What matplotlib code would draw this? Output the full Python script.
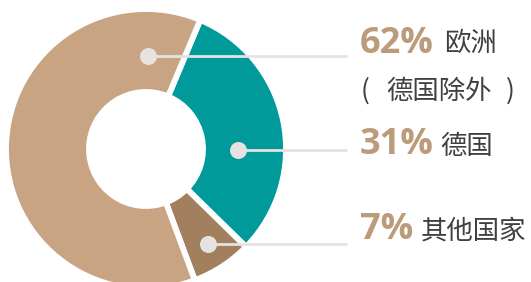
import matplotlib
matplotlib.use("Agg")
import matplotlib.pyplot as plt

#data
shares = [62, 31, 7]
pct_labels = ["62%", "31%", "7%"]
names = ["欧洲", "德国", "其他国家"]
note = "德国除外"
colors = ["#c8a482", "#009a9a", "#a2805d"]

#layout (pixels, y measured from top)
W, H = 531, 282
cx, cy, r_out, ring = 146, 149, 140, 83
draw_order = [1, 2, 0]  # clockwise from the top-right gap
dot_xy = [(148, 56), (238, 150), (208, 244)]
line_end = 347
text_x = 360
num_base = [53, 154, 239]
name_pos = [(444, 43), (440, 146), (421, 231)]
cjk = ["Noto Sans CJK SC", "DejaVu Sans"]

fig = plt.figure(figsize=(W / 100, H / 100), dpi=100)
ax = fig.add_axes([0, 0, 1, 1])

ax.pie([shares[i] for i in draw_order], colors=[colors[i] for i in draw_order],
       center=(cx, H - cy), radius=r_out, startangle=67.2, counterclock=False,
       wedgeprops=dict(width=ring, edgecolor="white", linewidth=4.2))
ax.set_xlim(0, W)
ax.set_ylim(0, H)
ax.set_aspect("auto")
ax.axis("off")

for (x, y) in dot_xy:
	ax.plot([x, line_end], [H - y, H - y], color="#e6e2e2", lw=2, solid_capstyle="butt", zorder=5)
	ax.scatter([x], [H - y], s=150, color="#e6e2e2", zorder=6, linewidths=0)

for i in range(len(shares)):
	ax.text(text_x, H - num_base[i], pct_labels[i], fontsize=26, fontweight="bold",
		family=["Open Sans", "DejaVu Sans"], color="#bc9b7a", va="baseline", ha="left")
	ax.text(name_pos[i][0], H - name_pos[i][1], names[i], fontsize=19,
		family=cjk, color="#404040", va="center", ha="left")

#"( 德国除外 )" spread out like the original
ax.text(361, H - 91, "(", fontsize=19, family=cjk, color="#404040", va="center", ha="left")
ax.text(386, H - 91, note, fontsize=19, family=cjk, color="#404040", va="center", ha="left")
ax.text(515, H - 91, ")", fontsize=19, family=cjk, color="#404040", va="center", ha="right")

fig.savefig("out.png", dpi=100)
